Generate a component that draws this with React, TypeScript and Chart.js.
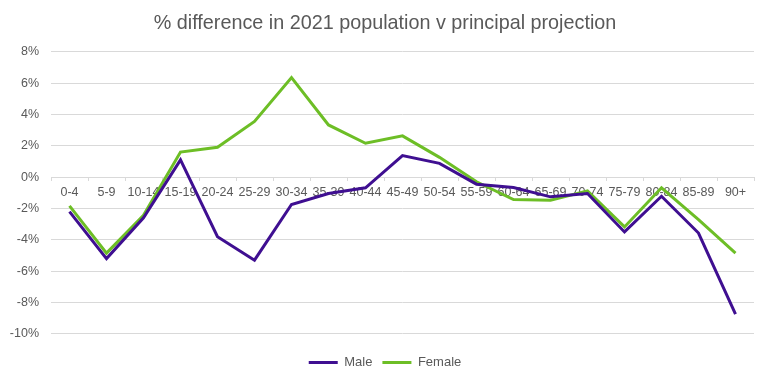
import React, { useEffect, useRef } from "react";
import { Chart, registerables } from "chart.js";

Chart.register(...registerables);

const categories = [
  "0-4", "5-9", "10-14", "15-19", "20-24", "25-29", "30-34", "35-39", "40-44", "45-49",
  "50-54", "55-59", "60-64", "65-69", "70-74", "75-79", "80-84", "85-89", "90+",
];
const maleValues = [
  -2.2, -5.2, -2.6, 1.1, -3.8, -5.3, -1.75, -1.05, -0.68, 1.37,
  0.88, -0.45, -0.66, -1.26, -1.05, -3.5, -1.22, -3.57, -8.74,
];
const femaleValues = [
  -1.84, -4.85, -2.44, 1.6, 1.9, 3.55, 6.35, 3.33, 2.16, 2.63,
  1.26, -0.3, -1.43, -1.47, -0.88, -3.18, -0.68, -2.71, -4.85,
];
const titleText = "% difference in 2021 population v principal projection";

export default function App() {
  const ref = useRef<HTMLCanvasElement | null>(null);
  useEffect(() => {
    if (!ref.current) return;
    const font = "'Liberation Sans', Arial, sans-serif";
    const chart = new Chart(ref.current, {
      type: "line",
      data: {
        labels: categories,
        datasets: [
          {
            label: "Male",
            data: maleValues,
            borderColor: "#3F0F91",
            backgroundColor: "#3F0F91",
            borderWidth: 3,
            pointRadius: 0,
            tension: 0,
          },
          {
            label: "Female",
            data: femaleValues,
            borderColor: "#6DBE26",
            backgroundColor: "#6DBE26",
            borderWidth: 3,
            pointRadius: 0,
            tension: 0,
          },
        ],
      },
      options: {
        responsive: false,
        animation: false,
        layout: { padding: { left: 8, right: 8, top: 0, bottom: 2 } },
        plugins: {
          title: {
            display: true,
            text: titleText,
            color: "#595959",
            font: { family: font, size: 19.8, weight: "normal" },
            padding: { top: 12, bottom: 16 },
          },
          legend: {
            position: "bottom",
            title: {
              display: true,
              text: "",
              font: { size: 1 },
              padding: { top: 0, bottom: 11 },
            },
            labels: {
              usePointStyle: true,
              pointStyle: "line",
              pointStyleWidth: 29,
              boxHeight: 12,
              color: "#595959",
              font: { family: font, size: 13 },
              padding: 10,
            },
          },
          tooltip: { enabled: false },
        },
        scales: {
          x: {
            position: { y: 0 } as any,
            offset: true,
            grid: {
              drawOnChartArea: false,
              drawTicks: true,
              tickLength: 3,
              color: "#D9D9D9",
              offset: true,
            },
            border: { display: true, color: "#D9D9D9" },
            ticks: {
              color: "#595959",
              font: { family: font, size: 12.5 },
              padding: 5,
              maxRotation: 0,
              autoSkip: false,
            },
          },
          y: {
            min: -10,
            max: 8,
            afterFit: (scale: any) => {
              scale.width = 43;
            },
            grid: { color: "#D9D9D9", drawTicks: false },
            border: { display: false },
            ticks: {
              stepSize: 2,
              color: "#595959",
              font: { family: font, size: 12.5 },
              padding: 12,
              callback: (v: any) => `${v}%`,
            },
          },
          yRight: {
            position: "right",
            display: true,
            min: -10,
            max: 8,
            afterFit: (scale: any) => {
              scale.width = 8;
            },
            grid: { display: false, drawTicks: false },
            border: { display: false },
            ticks: { display: false },
          },
        },
      },
    });
    return () => chart.destroy();
  }, []);
  return (
    <div style={{ position: "fixed", left: 0, top: 0, width: 770, height: 381, background: "#fff" }}>
      <canvas ref={ref} width={770} height={381} />
    </div>
  );
}
